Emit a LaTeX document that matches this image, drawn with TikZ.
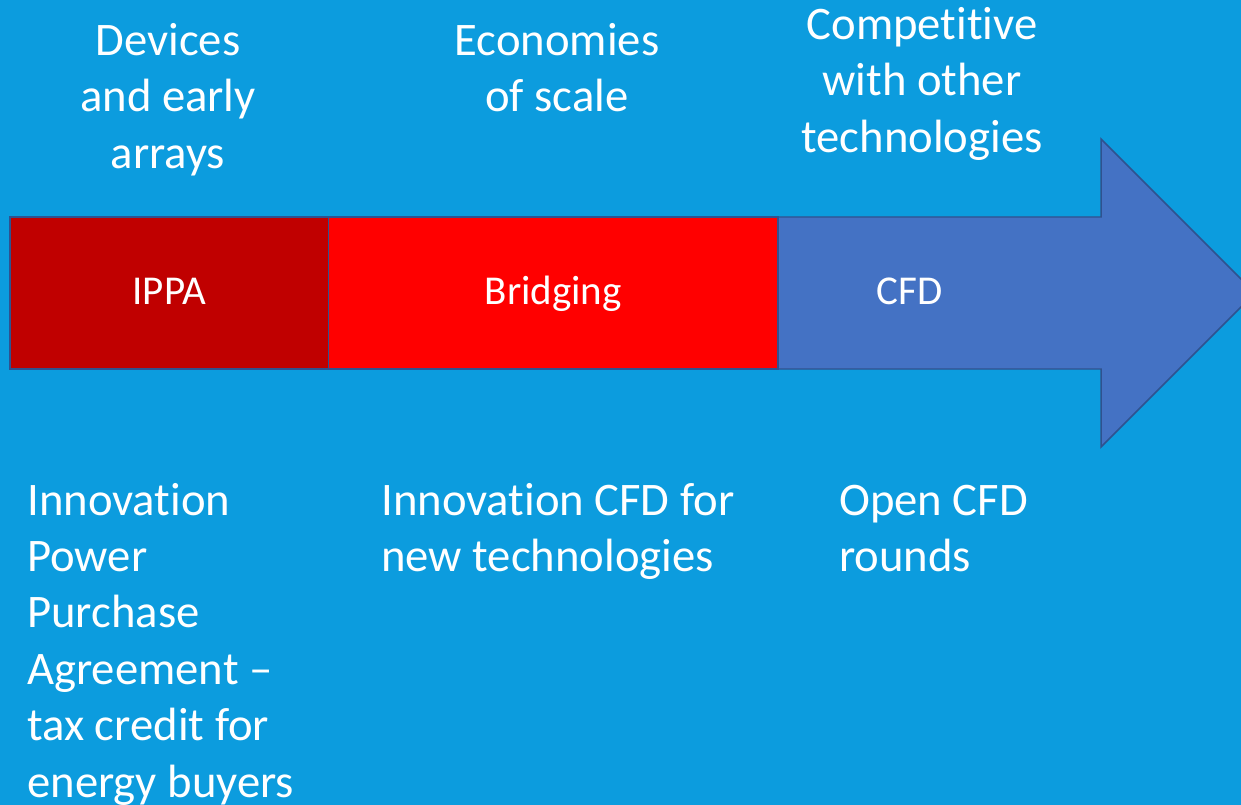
\documentclass[tikz,border=0pt]{standalone}
\usepackage{fontspec}
\setmainfont{Carlito}[Ligatures=NoCommon]
\definecolor{bg}{HTML}{0C9CDE}
\definecolor{arrowfill}{HTML}{4472C4}
\definecolor{edge}{HTML}{2F528F}
\definecolor{ippared}{HTML}{C00000}
\definecolor{bridgered}{HTML}{FF0000}
\tikzset{
  bigtext/.style={text=white, inner sep=0pt, font=\fontsize{35pt}{42.3pt}\selectfont},
  boxlabel/.style={text=white, font=\fontsize{30.75pt}{37pt}\selectfont, text height=18pt, text depth=0pt, inner sep=0pt},
  stagebox/.style={boxlabel, draw=edge, line width=1.1pt, minimum height=114pt, outer sep=0pt},
  arrowshape/.style={fill=arrowfill, draw=edge, line width=1.1pt, line join=miter}
}
\begin{document}
\begin{tikzpicture}[x=0.75pt,y=-0.75pt]
\path[use as bounding box, fill=bg] (0,0) rectangle (1241,805);
\clip (0,0) rectangle (1241,805);
\draw[arrowshape] (10,217) -- (1101,217) -- (1101,139) -- (1255,293) -- (1101,447) -- (1101,369) -- (10,369) -- cycle;
\node[stagebox, fill=ippared, minimum width=238.9pt] (ippa) at (169.25,293) {IPPA};
\node[stagebox, fill=bridgered, minimum width=337.1pt] (bridging) at (553.25,293) {Bridging};
\node[boxlabel] (cfd) at (909.5,293) {CFD};
\node[bigtext, anchor=base, align=center] (devices) at (168,168.3) {Devices\\and early\\arrays};
\node[bigtext, anchor=base, align=center] (economies) at (557,111.9) {Economies\\of scale};
\node[bigtext, anchor=base, align=center] (competitive) at (922,152.3) {Competitive\\with other\\technologies};
\node[bigtext, anchor=base west, align=left] (ippadesc) at (27,797) {Innovation\\Power\\Purchase\\Agreement –\\tax credit for\\energy buyers};
\node[bigtext, anchor=base west, align=left] (bridgedesc) at (381,571.4) {Innovation CFD for\\new technologies};
\node[bigtext, anchor=base west, align=left] (cfddesc) at (839,571.4) {Open CFD\\rounds};
\end{tikzpicture}
\end{document}
